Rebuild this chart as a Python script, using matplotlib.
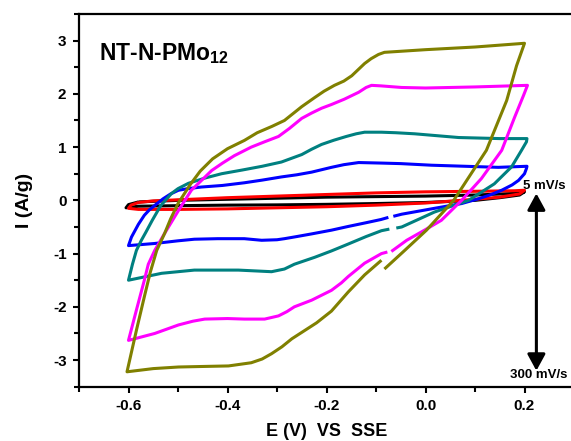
import matplotlib
matplotlib.use('Agg')
import matplotlib.pyplot as plt
from matplotlib.ticker import MultipleLocator, FormatStrFormatter

plt.rcParams['font.family'] = ['Liberation Sans', 'DejaVu Sans']
plt.rcParams['font.weight'] = 'bold'
plt.rcParams['axes.unicode_minus'] = False
plt.rcParams['mathtext.fontset'] = 'custom'
plt.rcParams['mathtext.bf'] = 'Liberation Sans:bold'
plt.rcParams['mathtext.rm'] = 'Liberation Sans:bold'
plt.rcParams['mathtext.default'] = 'bf'

# ---- data (E in V vs SSE, I in A/g) ----
black_x = [-0.58, -0.5, -0.4, -0.3, -0.2, -0.1, 0.0, 0.1, 0.18, 0.2,
           0.19, 0.15, 0.1, 0.0, -0.1, -0.2, -0.3, -0.4, -0.5, -0.58, -0.605, -0.6, -0.58]
black_y = [-0.03, 0.0, 0.02, 0.04, 0.06, 0.07, 0.08, 0.1, 0.13, 0.16,
           0.1, 0.05, 0.0, -0.04, -0.06, -0.075, -0.085, -0.09, -0.1, -0.11, -0.14, -0.08, -0.03]

red_x = [-0.58, -0.55, -0.5, -0.4, -0.3, -0.2, -0.1, 0.0, 0.1, 0.18, 0.2,
         0.19, 0.15, 0.1, 0.0, -0.1, -0.2, -0.3, -0.4, -0.5, -0.58, -0.6, -0.595, -0.58]
red_y = [-0.04, -0.01, 0.01, 0.05, 0.08, 0.11, 0.14, 0.16, 0.17, 0.18, 0.19,
         0.12, 0.06, 0.02, -0.05, -0.09, -0.12, -0.14, -0.16, -0.17, -0.17, -0.15, -0.09, -0.04]

blue_x = [-0.065, -0.048, 0.018, 0.073, 0.107, 0.13, 0.154, 0.175, 0.188, 0.2, 0.204, 0.205,
          0.147, 0.08, 0.012, -0.05, -0.089, -0.135, -0.165, -0.19, -0.23, -0.26, -0.291,
          -0.33, -0.366, -0.41, -0.453, -0.48, -0.499, -0.515, -0.53, -0.545, -0.558,
          -0.568, -0.58, -0.594, -0.6,
          -0.547, -0.5, -0.467, -0.42, -0.366, -0.331, -0.3, -0.285, -0.26, -0.23,
          -0.19, -0.156, -0.12, -0.09, -0.075]
blue_y = [-0.3, -0.26, -0.15, -0.06, 0.03, 0.1, 0.19, 0.29, 0.375, 0.5, 0.6, 0.64,
          0.62, 0.64, 0.66, 0.69, 0.7, 0.71, 0.67, 0.62, 0.53, 0.48, 0.44,
          0.38, 0.33, 0.28, 0.25, 0.22, 0.19, 0.12, 0.03, -0.08, -0.18,
          -0.28, -0.45, -0.69, -0.85,
          -0.81, -0.76, -0.73, -0.72, -0.72, -0.75, -0.74, -0.72, -0.68, -0.63,
          -0.56, -0.49, -0.42, -0.36, -0.32]

teal_x = [-0.059, -0.048, 0.018, 0.087, 0.139, 0.174, 0.194, 0.204, 0.205,
          0.15, 0.067, -0.022, -0.06, -0.089, -0.123, -0.14, -0.16, -0.185, -0.21, -0.23,
          -0.25, -0.291, -0.33, -0.37, -0.412, -0.445, -0.479, -0.5, -0.513,
          -0.535, -0.552, -0.565, -0.574, -0.584, -0.592, -0.6,
          -0.533, -0.467, -0.378, -0.311, -0.285, -0.265, -0.224, -0.19, -0.156, -0.12,
          -0.089, -0.073]
teal_y = [-0.52, -0.5, -0.22, 0.0, 0.31, 0.63, 0.94, 1.1, 1.16,
          1.16, 1.18, 1.25, 1.27, 1.28, 1.28, 1.25, 1.2, 1.13, 1.05, 0.96,
          0.86, 0.72, 0.64, 0.57, 0.5, 0.42, 0.32, 0.22, 0.13,
          -0.1, -0.375, -0.6, -0.75, -0.94, -1.2, -1.5,
          -1.37, -1.31, -1.31, -1.34, -1.29, -1.2, -1.07, -0.95, -0.82, -0.68,
          -0.57, -0.54]

magenta_x = [-0.069, -0.038, -0.002, 0.032, 0.073, 0.113, 0.154, 0.18, 0.198, 0.206,
             0.1, 0.0, -0.048, -0.09, -0.109, -0.12, -0.135, -0.164, -0.19, -0.21, -0.23,
             -0.25, -0.275, -0.297, -0.325, -0.352, -0.386, -0.41, -0.432, -0.453, -0.473,
             -0.499, -0.527, -0.547, -0.56, -0.568, -0.584, -0.6,
             -0.547, -0.499, -0.47, -0.446, -0.4, -0.366, -0.325, -0.297, -0.28, -0.265,
             -0.23, -0.19, -0.17, -0.156, -0.123, -0.089, -0.077]
magenta_y = [-0.96, -0.75, -0.56, -0.375, 0.0, 0.41, 0.94, 1.56, 1.97, 2.16,
             2.13, 2.11, 2.12, 2.15, 2.16, 2.12, 2.03, 1.9, 1.8, 1.73, 1.64,
             1.54, 1.35, 1.2, 1.1, 1.0, 0.84, 0.7, 0.56, 0.37, 0.19,
             -0.19, -0.62, -0.94, -1.2, -1.5, -2.06, -2.63,
             -2.5, -2.34, -2.27, -2.23, -2.22, -2.23, -2.23, -2.17, -2.09, -2.0,
             -1.875, -1.69, -1.55, -1.43, -1.18, -1.0, -0.97]

olive_x = [-0.083, -0.042, 0.002, 0.057, 0.123, 0.164, 0.184, 0.2,
           0.1, 0.0, -0.083, -0.095, -0.11, -0.123, -0.149, -0.165, -0.184, -0.205, -0.224,
           -0.25, -0.285, -0.31, -0.34, -0.366, -0.4, -0.43, -0.455, -0.475, -0.5,
           -0.515, -0.527, -0.543, -0.556, -0.568, -0.584, -0.603,
           -0.55, -0.499, -0.45, -0.398, -0.352, -0.33, -0.311, -0.29, -0.27, -0.25,
           -0.22, -0.19, -0.156, -0.123, -0.089]
olive_y = [-1.29, -0.94, -0.56, 0.0, 0.94, 1.875, 2.53, 2.95,
           2.88, 2.83, 2.78, 2.74, 2.66, 2.57, 2.34, 2.24, 2.16, 2.05, 1.93,
           1.76, 1.5, 1.39, 1.27, 1.125, 0.97, 0.78, 0.55, 0.3, -0.06,
           -0.35, -0.62, -0.94, -1.35, -1.81, -2.44, -3.22,
           -3.16, -3.13, -3.12, -3.11, -3.05, -2.98, -2.88, -2.75, -2.6, -2.48,
           -2.3, -2.08, -1.72, -1.4, -1.125]

curves = [(black_x, black_y, '#000000'),
          (red_x, red_y, '#ff0000'),
          (blue_x, blue_y, '#0000ff'),
          (teal_x, teal_y, '#008080'),
          (magenta_x, magenta_y, '#ff00ff'),
          (olive_x, olive_y, '#808000')]

x_ticks = [-0.6, -0.4, -0.2, 0.0, 0.2]
y_ticks = [-3, -2, -1, 0, 1, 2, 3]
rate_low = '5 mV/s'
rate_high = '300 mV/s'

W, H = 571, 441
fig = plt.figure(figsize=(W / 100, H / 100), dpi=100)
ax = fig.add_axes([79 / W, (H - 386.7) / H, 495 / W, 372.7 / H])

for xs, ys, c in curves:
    ax.plot(xs, ys, color=c, lw=2.2, solid_joinstyle='round', solid_capstyle='butt')

ax.set_xlim(-0.7, 0.3)
ax.set_ylim(-3.5, 3.5)
ax.set_xticks(x_ticks)
ax.set_yticks(y_ticks)
ax.xaxis.set_major_formatter(FormatStrFormatter('%.1f'))
ax.xaxis.set_minor_locator(MultipleLocator(0.1))
ax.yaxis.set_minor_locator(MultipleLocator(0.5))
for s in ax.spines.values():
    s.set_linewidth(1.6)
ax.tick_params(which='both', direction='out', width=1.5, top=False, right=False)
ax.tick_params(which='major', length=4, labelsize=11, pad=5)
ax.tick_params(which='minor', length=3.5)
for lab in ax.get_xticklabels() + ax.get_yticklabels():
    lab.set_fontweight('bold')

ax.set_xlabel('E (V)  VS  SSE', fontsize=13, fontweight='bold', labelpad=7)
ax.set_ylabel('I (A/g)', fontsize=14, fontweight='bold', labelpad=14)

ax.text(-0.659, 2.64, r'NT-N-PMo$_{\mathbf{12}}$', fontsize=16.5, fontweight='bold',
        ha='left', va='baseline')

ax.annotate('', xy=(0.224, 0.13), xytext=(0.224, -3.2),
            arrowprops=dict(arrowstyle='<|-|>,head_length=0.55,head_width=0.3',
                            lw=2.2, color='black', mutation_scale=18,
                            shrinkA=0, shrinkB=0))
ax.text(0.24, 0.27, rate_low, fontsize=9.5, fontweight='bold', ha='center', va='center')
ax.text(0.229, -3.28, rate_high, fontsize=9.5, fontweight='bold', ha='center', va='center')

fig.savefig('out.png', dpi=100)
